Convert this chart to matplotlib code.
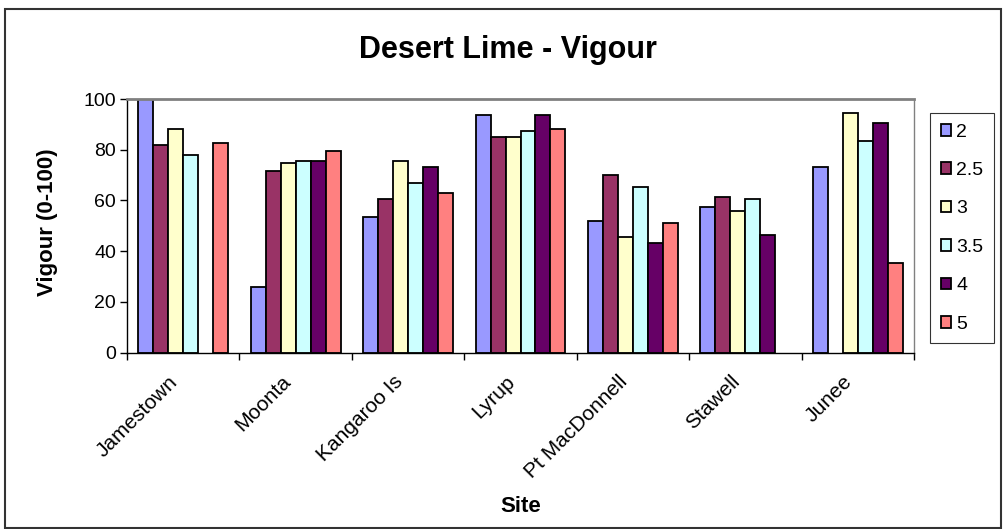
import matplotlib.pyplot as plt
import matplotlib.transforms as mtransforms
import numpy as np
from matplotlib.patches import Rectangle

plt.rcParams['font.family'] = ['Liberation Sans', 'DejaVu Sans']

# Daten
sites = ['Jamestown', 'Moonta', 'Kangaroo Is', 'Lyrup', 'Pt MacDonnell', 'Stawell', 'Junee']
series_labels = ['2', '2.5', '3', '3.5', '4', '5']
nan = np.nan
v_2 = [100, 25.8, 53.5, 93.8, 51.8, 57.4, 73.2]
v_2_5 = [81.8, 71.7, 60.6, 85.0, 70.0, 61.4, nan]
v_3 = [88.1, 74.8, 75.5, 85.0, 45.6, 55.8, 94.6]
v_3_5 = [78.0, 75.5, 66.8, 87.4, 65.2, 60.6, 83.5]
v_4 = [nan, 75.5, 73.2, 93.8, 43.1, 46.4, 90.6]
v_5 = [82.7, 79.4, 62.8, 88.3, 51.0, nan, 35.3]
series = [v_2, v_2_5, v_3, v_3_5, v_4, v_5]
colors = ['#9999FF', '#993366', '#FFFFCC', '#CCFFFF', '#660066', '#FF8080']

fig = plt.figure(figsize=(10.05, 5.29), dpi=100)
W, H = 1005, 529
ax = fig.add_axes([127 / W, 1 - 352.5 / H, (914 - 127) / W, (352.5 - 99) / H])

# Rahmen um die ganze Grafik
fig.patches.append(Rectangle((5 / W, 1 / H), (1001 - 5) / W, (520 - 1) / H,
                             transform=fig.transFigure, fill=False,
                             edgecolor='#333333', linewidth=1.5))

xs = np.arange(len(sites))
bw = 0.8 / len(series)
for i, vals in enumerate(series):
    ax.bar(xs - 0.4 + bw * (i + 0.5), vals, width=bw, color=colors[i],
           edgecolor='black', linewidth=1.3, label=series_labels[i])

ax.set_xlim(-0.5, len(sites) - 0.5)
ax.set_ylim(0, 100)
ax.set_yticks(np.arange(0, 101, 20))
ax.tick_params(axis='y', labelsize=14, length=5, direction='out', width=1, pad=3)

# X-Ticks an den Kategoriegrenzen, Beschriftung in der Mitte
ax.set_xticks(np.arange(-0.5, len(sites), 1))
ax.set_xticklabels([])
ax.tick_params(axis='x', which='major', length=5, width=1, direction='out')
ax.set_xticks(xs, minor=True)
ax.set_xticklabels(sites, minor=True, rotation=45, ha='right', va='top',
                   rotation_mode='anchor', fontsize=15)
ax.tick_params(axis='x', which='minor', length=0, pad=14)
verschiebung = mtransforms.ScaledTranslation(-0.15, 0, fig.dpi_scale_trans)
for lbl in ax.get_xticklabels(minor=True):
    lbl.set_transform(lbl.get_transform() + verschiebung)

ax.spines['top'].set_color('#808080')
ax.spines['right'].set_color('#808080')
ax.spines['top'].set_linewidth(2)
ax.spines['right'].set_linewidth(1)
ax.spines['left'].set_linewidth(1)
ax.spines['bottom'].set_linewidth(1)

fig.text(508 / W, 1 - 58 / H, 'Desert Lime - Vigour', ha='center', va='baseline',
         fontsize=22, fontweight='bold')
fig.text(48 / W, 1 - 222 / H, 'Vigour (0-100)', ha='center', va='center',
         rotation=90, fontsize=16, fontweight='bold')
fig.text(521 / W, 1 - 506 / H, 'Site', ha='center', va='center', fontsize=16,
         fontweight='bold')

leg = fig.legend(loc='upper left', bbox_to_anchor=(930 / W, 1 - 113 / H),
                 fontsize=14, frameon=True, fancybox=False, handlelength=0.55,
                 handleheight=0.55, handletextpad=0.25, labelspacing=1.1,
                 borderpad=0.55, borderaxespad=0)
leg.get_frame().set_edgecolor('black')
leg.get_frame().set_linewidth(0.8)

fig.savefig('out.png', dpi=100)
